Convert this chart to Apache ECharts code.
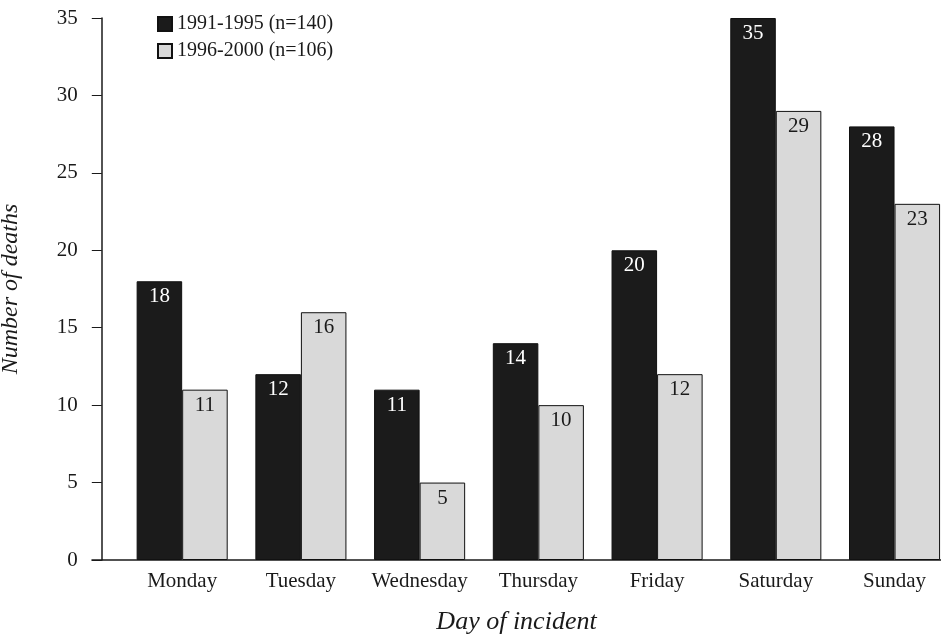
<!DOCTYPE html>
<html>
<head>
<meta charset="utf-8">
<script src="https://cdn.jsdelivr.net/npm/echarts@6/dist/echarts.min.js"></script>
<style>
    html, body {margin: 0; padding: 0; background: #fff;}
    #main {width: 941px; height: 637px;}
</style>
</head>
<body>
<div id="main"></div>
<script>
    var days = ['Monday', 'Tuesday', 'Wednesday', 'Thursday', 'Friday', 'Saturday', 'Sunday'];
    var period1 = [18, 12, 11, 14, 20, 35, 28];
    var period2 = [11, 16, 5, 10, 12, 29, 23];
    var names = ['1991-1995 (n=140)', '1996-2000 (n=106)'];

    var font = 'Liberation Serif';

    (function (charts) {
        charts.setOption({
            animation: false,
            textStyle: {fontFamily: font, color: '#1a1a1a'},
            legend: {
                orient: 'vertical', left: 152, top: 9,
                itemWidth: 14, itemHeight: 14, itemGap: 7,
                icon: 'rect',
                textStyle: {fontFamily: font, fontSize: 20, color: '#1a1a1a'},
                data: names
            },
            grid: [
                {left: 122.8, right: -12.9, top: 18, bottom: 77, outerBoundsMode: 'none'},
                {left: 92, right: 0, top: 18, bottom: 77, outerBoundsMode: 'none'}
            ],
            xAxis: [
                {
                    type: 'category', data: days, gridIndex: 0,
                    axisLine: {show: false}, axisTick: {show: false},
                    axisLabel: {interval: 0, fontSize: 21, color: '#1a1a1a', margin: 11, fontFamily: font}
                },
                {
                    type: 'value', gridIndex: 1, min: 0, max: 1,
                    axisLine: {show: true, lineStyle: {color: '#1a1a1a', width: 1.5}},
                    axisTick: {show: false}, axisLabel: {show: false}, splitLine: {show: false},
                    name: 'Day of incident', nameLocation: 'middle', nameGap: 49,
                    nameTextStyle: {fontFamily: font, fontStyle: 'italic', fontSize: 26, color: '#1a1a1a'}
                }
            ],
            yAxis: [
                {
                    type: 'value', gridIndex: 0, min: 0, max: 35, interval: 5, offset: 21,
                    splitLine: {show: false},
                    axisLine: {show: true, lineStyle: {color: '#1a1a1a', width: 1.5}},
                    axisTick: {show: true, length: 10, lineStyle: {color: '#1a1a1a', width: 1}},
                    axisLabel: {fontSize: 21, color: '#1a1a1a', margin: 24, fontFamily: font},
                    name: 'Number of deaths', nameLocation: 'middle', nameGap: 79, nameRotate: 90,
                    nameTextStyle: {fontFamily: font, fontStyle: 'italic', fontSize: 24, color: '#1a1a1a'}
                },
                {
                    type: 'value', gridIndex: 1, min: 0, max: 1, show: false
                }
            ],
            series: [
                {
                    name: names[0], type: 'bar', xAxisIndex: 0, yAxisIndex: 0,
                    barGap: '0%', barCategoryGap: '23.3%',
                    itemStyle: {color: '#1b1b1b', borderColor: '#111', borderWidth: 1},
                    label: {show: true, position: 'insideTop', distance: 5, color: '#fff', fontSize: 21, fontFamily: font},
                    data: period1
                },
                {
                    name: names[1], type: 'bar', xAxisIndex: 0, yAxisIndex: 0,
                    itemStyle: {color: '#d9d9d9', borderColor: '#111', borderWidth: 1},
                    label: {show: true, position: 'insideTop', distance: 5, color: '#1a1a1a', fontSize: 21, fontFamily: font},
                    data: period2
                }
            ]
        });
    })(echarts.init(document.getElementById('main')));
</script>
</body>
</html>
